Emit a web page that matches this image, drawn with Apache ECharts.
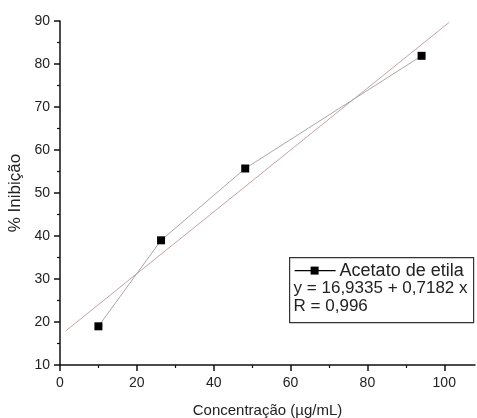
<!DOCTYPE html>
<html><head><meta charset="utf-8">
<script src="https://cdn.jsdelivr.net/npm/echarts@6/dist/echarts.min.js"></script>
<style>html,body{margin:0;padding:0;background:#fff}#c{width:477px;height:418px}</style>
</head><body><div id="c"></div>
<script>
// Data
const concentracao = [10, 26.3, 48.2, 94.1];
const inibicao = [19, 39, 55.7, 81.9];
const fitX = [1.6, 101.3];
const fitY = [18.0, 89.7];
const xMajorTicks = [0, 20, 40, 60, 80, 100];
const xMinorTicks = [10, 30, 50, 70, 90];
const seriesName = 'Acetato de etila';
const equationText = 'y = 16,9335 + 0,7182 x';
const rText = 'R = 0,996';

const font = 'Liberation Sans, Arial, sans-serif';
const txt = '#222';
const chart = echarts.init(document.getElementById('c'), null, {renderer: 'canvas'});

const pts = concentracao.map((x, i) => [x, inibicao[i]]);
const fit = fitX.map((x, i) => [x, fitY[i]]);

chart.setOption({
  animation: false,
  backgroundColor: '#fff',
  grid: {left: 60, right: 2, top: 21, bottom: 53, containLabel: false, outerBoundsMode: 'none'},
  xAxis: [{
    type: 'value', min: 0, max: 108,
    name: 'Concentração (µg/mL)', nameLocation: 'middle', nameGap: 38,
    nameTextStyle: {fontFamily: font, fontSize: 15, color: txt},
    axisLine: {show: true, onZero: false, lineStyle: {color: '#111', width: 1.5}},
    axisTick: {show: true, length: 6, customValues: xMajorTicks, lineStyle: {color: '#111', width: 1.5}},
    axisLabel: {show: true, margin: 11, customValues: xMajorTicks, fontFamily: font, fontSize: 14, color: txt},
    splitLine: {show: false}
  }, {
    type: 'value', min: 0, max: 108, position: 'bottom',
    axisLine: {show: false},
    axisTick: {show: true, length: 3, customValues: xMinorTicks, lineStyle: {color: '#111', width: 1.2}},
    axisLabel: {show: false, customValues: xMinorTicks},
    splitLine: {show: false}
  }],
  yAxis: {
    type: 'value', min: 10, max: 90, interval: 10,
    name: '% Inibição', nameLocation: 'middle', nameGap: 34,
    nameTextStyle: {fontFamily: font, fontSize: 17, color: txt},
    axisLine: {show: true, onZero: false, lineStyle: {color: '#111', width: 1.5}},
    axisTick: {show: true, length: 6, lineStyle: {color: '#111', width: 1.5}},
    minorTick: {show: true, splitNumber: 2, length: 3, lineStyle: {color: '#111', width: 1.2}},
    axisLabel: {margin: 10, fontFamily: font, fontSize: 14, color: txt},
    splitLine: {show: false}
  },
  series: [{
    type: 'line', name: 'fit', data: fit, xAxisIndex: 0,
    symbol: 'none', lineStyle: {color: '#c4a4a4', width: 1}, silent: true
  }, {
    type: 'line', name: seriesName, data: pts, xAxisIndex: 0,
    symbol: 'rect', symbolSize: 8,
    itemStyle: {color: '#000'},
    lineStyle: {color: '#a8a8a8', width: 1}
  }],
  graphic: [{
    type: 'group', left: 289, top: 257,
    children: [
      {type: 'rect', shape: {x: 0, y: 0, width: 184, height: 65}, style: {fill: '#fff', stroke: '#333', lineWidth: 1.2}},
      {type: 'line', shape: {x1: 5, y1: 13, x2: 46, y2: 13}, style: {stroke: '#000', lineWidth: 1.2}},
      {type: 'rect', shape: {x: 21, y: 9, width: 8, height: 8}, style: {fill: '#000'}},
      {type: 'text', x: 50, y: 13, style: {text: seriesName, font: '18px ' + font, fill: txt, verticalAlign: 'middle'}},
      {type: 'text', x: 4, y: 31, style: {text: equationText, font: '17px ' + font, fill: txt, verticalAlign: 'middle'}},
      {type: 'text', x: 4, y: 49, style: {text: rText, font: '17px ' + font, fill: txt, verticalAlign: 'middle'}}
    ]
  }]
});
</script>
</body></html>
